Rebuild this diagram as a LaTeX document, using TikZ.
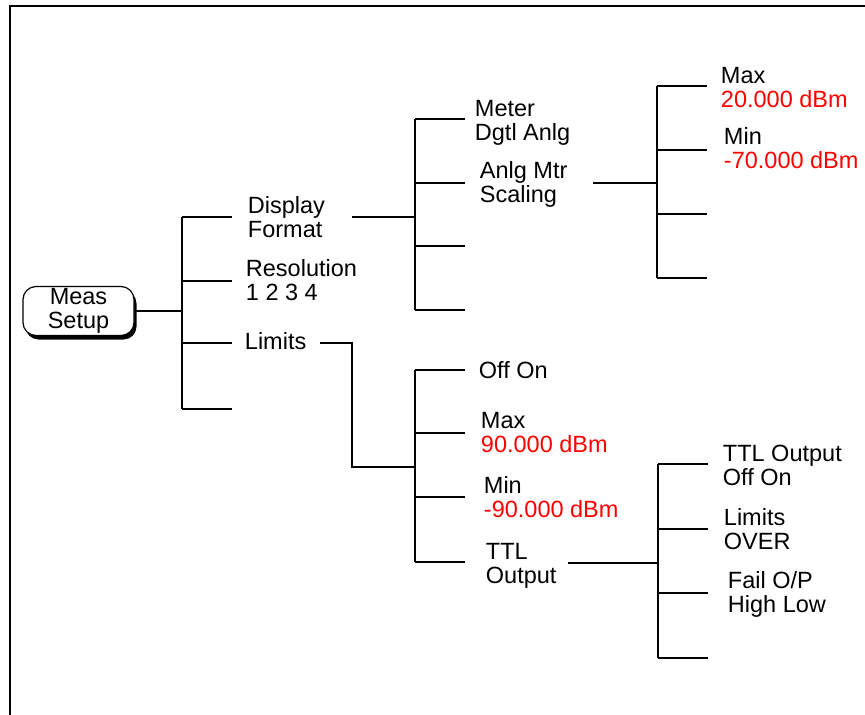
\documentclass[tikz,border=0pt]{standalone}
\usepackage{fontspec}
\setmainfont{Liberation Sans}
\usetikzlibrary{shadows}

\begin{document}
\begin{tikzpicture}[x=1pt,y=-1pt,line width=1.9pt,
  lbl/.style={anchor=north west,inner sep=0pt,align=left,
    font=\fontsize{23.5}{24}\selectfont},
  keybox/.style={draw,fill=white,line width=1.2pt,rounded corners=13pt,
    minimum width=111pt,minimum height=49pt,inner sep=0pt,align=center,
    font=\fontsize{23.5}{24}\selectfont,
    drop shadow={shadow xshift=2.5pt,shadow yshift=-4pt,opacity=1,fill=black}}]
\useasboundingbox (0,0) rectangle (865,715);
\draw[line width=2.5pt] (10,715) -- (10,6) -- (865,6);

\node[keybox] (key) at (78.5,311) {Meas\\Setup};

\node[lbl] (dispfmt) at (247,196) {Display\\Format};
\node[lbl] (resol) at (245,259) {Resolution\\1 2 3 4};
\node[lbl] (limits) at (244,332) {Limits};

\node[lbl] (meter) at (474,99) {Meter\\Dgtl Anlg};
\node[lbl] (anlgmtr) at (479,161) {Anlg Mtr\\Scaling};
\node[lbl] (maxa) at (720,66) {Max\\\textcolor{red}{20.000 dBm}};
\node[lbl] (mina) at (723,127) {Min\\\textcolor{red}{-70.000 dBm}};

\node[lbl] (offon) at (478,361) {Off On};
\node[lbl] (maxl) at (480,411) {Max\\\textcolor{red}{90.000 dBm}};
\node[lbl] (minl) at (483,476) {Min\\\textcolor{red}{-90.000 dBm}};
\node[lbl] (ttl) at (485,542) {TTL\\Output};

\node[lbl] (ttlout) at (722,444) {TTL Output\\Off On};
\node[lbl] (limover) at (723,508) {Limits\\OVER};
\node[lbl] (failop) at (727,571) {Fail O/P\\High Low};

% Meas Setup level
\coordinate (j1) at (182,311);
\foreach \y [count=\i] in {217,281,343,409}
  \coordinate (b\i) at (232,\y);
\draw (key.east) -- (j1);
\draw (j1 |- b1) -- (j1 |- b4);
\foreach \i in {1,...,4} \draw (j1 |- b\i) -- (b\i);

% Display Format level
\coordinate (d0) at (352,217);
\coordinate (j2) at (415,217);
\foreach \y [count=\i] in {119,183,246,310}
  \coordinate (c\i) at (465,\y);
\draw (d0) -- (j2);
\draw (j2 |- c1) -- (j2 |- c4);
\foreach \i in {1,...,4} \draw (j2 |- c\i) -- (c\i);

% Anlg Mtr Scaling level
\coordinate (g0) at (593,183);
\coordinate (j3) at (657,183);
\foreach \y [count=\i] in {86,150,214,278}
  \coordinate (e\i) at (707,\y);
\draw (g0) -- (j3);
\draw (j3 |- e1) -- (j3 |- e4);
\foreach \i in {1,...,4} \draw (j3 |- e\i) -- (e\i);

% Limits level
\coordinate (l0) at (320,343);
\coordinate (j4) at (415,467);
\foreach \y [count=\i] in {370,433,497,562}
  \coordinate (f\i) at (465,\y);
\draw (l0) -- ++(32,0) |- (j4);
\draw (j4 |- f1) -- (j4 |- f4);
\foreach \i in {1,...,4} \draw (j4 |- f\i) -- (f\i);

% TTL Output level
\coordinate (t0) at (568,563);
\coordinate (j5) at (658,563);
\foreach \y [count=\i] in {464,529,593,658}
  \coordinate (h\i) at (708,\y);
\draw (t0) -- (j5);
\draw (j5 |- h1) -- (j5 |- h4);
\foreach \i in {1,...,4} \draw (j5 |- h\i) -- (h\i);

\end{tikzpicture}
\end{document}
